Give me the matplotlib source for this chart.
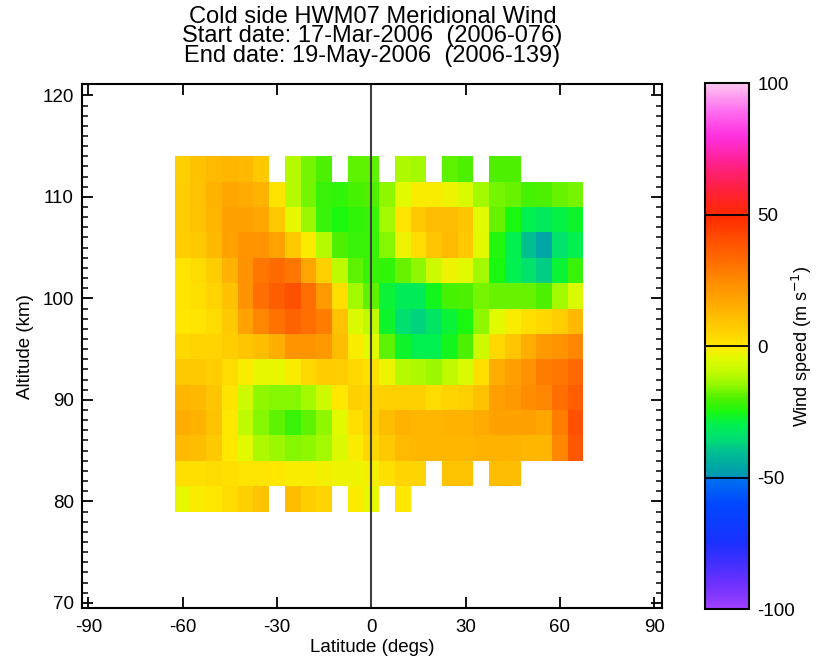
import numpy as np
import matplotlib.pyplot as plt
from matplotlib.colors import LinearSegmentedColormap

plt.rcParams['font.family'] = ['Liberation Sans', 'DejaVu Sans']
plt.rcParams['axes.unicode_minus'] = False

nan = np.nan

# latitude bin centres (deg) and altitude bin centres (km)
lats = np.arange(-60, 70, 5)
alts = np.arange(80.25, 113.0, 2.5)

# meridional wind (m/s), one list per altitude bin, bottom to top
w_080 = [-4, -1, 0, 3, 6, 10, nan, 11, 7, 5, nan, -1, -4, nan, 0, nan, nan, nan, nan, nan, nan, nan, nan, nan, nan, nan]
w_083 = [2, 2, 3, 2, 1, 1, 0, -1, -1, -2, -3, -3, -2, 2, 5, 5, nan, 10, 10, nan, 11, 11, nan, nan, nan, nan]
w_085 = [12, 11, 8, 0, -5, -12, -14, -16, -15, -13, -6, -1, 4, 8, 12, 13, 13, 13, 13, 14, 14, 14, 13, 13, 26, 38]
w_088 = [15, 14, 10, 0, -10, -16, -19, -22, -19, -15, -5, 2, 6, 11, 14, 13, 13, 14, 14, 16, 18, 18, 19, 17, 28, 40]
w_090 = [13, 12, 9, 1, -8, -15, -16, -16, -13, -8, 0, 6, 5, 6, 6, 6, 3, 5, 6, 10, 19, 21, 24, 26, 32, 36]
w_093 = [8, 8, 7, 3, -1, -4, -4, -1, 4, 7, 7, 4, 2, -3, -11, -12, -14, -10, -6, 2, 15, 19, 23, 28, 30, 33]
w_095 = [4, 5, 5, 7, 9, 11, 15, 22, 22, 21, 11, -1, -5, -19, -27, -30, -30, -26, -20, -8, 4, 9, 15, 21, 23, 26]
w_098 = [0, 1, 3, 8, 18, 26, 31, 35, 32, 28, 10, -6, -10, -27, -35, -37, -33, -28, -25, -15, -5, -1, 2, 4, 7, 12]
w_100 = [1, 2, 5, 10, 23, 32, 36, 40, 32, 21, 2, -13, -19, -28, -31, -31, -26, -21, -20, -17, -18, -18, -18, -20, -13, -6]
w_103 = [1, 3, 7, 14, 23, 30, 33, 30, 17, 6, -10, -19, -22, -23, -18, -15, -8, -3, -5, -13, -25, -30, -34, -38, -28, -22]
w_105 = [7, 8, 12, 18, 22, 22, 18, 8, -1, -11, -20, -22, -22, -16, -3, 3, 9, 12, 8, -5, -24, -30, -40, -46, -34, -30]
w_108 = [7, 10, 13, 18, 18, 17, 8, -4, -14, -22, -25, -23, -22, -13, 1, 8, 11, 11, 9, -5, -18, -25, -30, -32, -29, -27]
w_110 = [7, 10, 14, 17, 16, 14, 1, -11, -17, -22, -23, -21, -20, -15, -5, -1, -1, -3, -6, -13, -17, -18, -21, -20, -18, -17]
w_113 = [6, 10, 12, 13, 12, 8, nan, -11, -17, -20, nan, -19, -19, nan, -12, -13, nan, -19, -20, nan, -20, -20, nan, nan, nan, nan]

wind = np.ma.masked_invalid(np.array([w_080, w_083, w_085, w_088, w_090, w_093, w_095,
                                      w_098, w_100, w_103, w_105, w_108, w_110, w_113]))

# colour table: value -> colour
nodes = [(-100, '#a040ff'), (-90, '#6a30ff'), (-75, '#1a30ff'), (-60, '#0048ff'),
         (-50.5, '#0070f0'), (-49.5, '#0098b0'), (-40, '#00c090'), (-35, '#00e070'),
         (-30, '#00f050'), (-25, '#18f810'), (-20, '#50f000'), (-15, '#90f800'),
         (-10, '#c0fa00'), (-5, '#e0fa00'), (0, '#ffe800'), (5, '#ffd400'),
         (10, '#ffc200'), (15, '#ffae00'), (20, '#ff9c00'), (25, '#ff8a00'),
         (30, '#ff7600'), (35, '#ff6200'), (40, '#ff5000'), (50, '#ff2800'),
         (60, '#ff2040'), (70, '#ff2090'), (80, '#ff30e0'), (90, '#ff70f0'),
         (100, '#ffc8f0')]
cmap = LinearSegmentedColormap.from_list('wind', [((v + 100) / 200, c) for v, c in nodes], N=512)

fig = plt.figure(figsize=(8.21, 6.63), dpi=100)
ax = fig.add_axes([0.0999, 0.083, 0.7061, 0.790])

lat_edges = np.append(lats - 2.5, lats[-1] + 2.5)
alt_edges = np.append(alts - 1.25, alts[-1] + 1.25)
mesh = ax.pcolormesh(lat_edges, alt_edges, wind, cmap=cmap, vmin=-100, vmax=100)
ax.axvline(0, color='#404040', lw=1.5)

ax.set_xlim(-92, 92.4)
ax.set_ylim(69.5, 121.1)
ax.set_xticks([-90, -60, -30, 0, 30, 60, 90])
ax.set_yticks([70, 80, 90, 100, 110, 120])
ax.set_yticks(np.arange(70, 121, 1), minor=True)
ax.tick_params(direction='in', top=True, right=True, labelsize=13.5, width=1.3)
ax.tick_params(axis='x', which='major', length=8, pad=8)
ax.tick_params(axis='y', which='major', length=8, pad=6)
ax.tick_params(axis='y', which='minor', direction='in', right=True, length=4.5, width=1.1)
for s in ax.spines.values():
    s.set_linewidth(1.5)
ax.set_xlabel('Latitude (degs)', fontsize=13.5, labelpad=2)
ax.set_ylabel('Altitude (km)', fontsize=13.5, labelpad=6)

fig.text(0.4535, 0.975, 'Cold side HWM07 Meridional Wind', ha='center', va='center', fontsize=17)
fig.text(0.4535, 0.945, 'Start date: 17-Mar-2006  (2006-076)', ha='center', va='center', fontsize=17)
fig.text(0.4535, 0.915, 'End date: 19-May-2006  (2006-139)', ha='center', va='center', fontsize=17)

cax = fig.add_axes([0.8587, 0.0814, 0.0536, 0.7934])
cb = fig.colorbar(mesh, cax=cax, ticks=[-100, -50, 0, 50, 100])
cb.ax.tick_params(length=0, labelsize=13.5, pad=6)
cb.outline.set_linewidth(1.5)
for v in [-50, 0, 50]:
    cb.ax.axhline(v, color='black', lw=1.3)
fig.text(0.977, 0.478, 'Wind speed (m s$^{-1}$)', rotation=90, ha='center', va='center', fontsize=13)

fig.savefig('out.png', dpi=100)
